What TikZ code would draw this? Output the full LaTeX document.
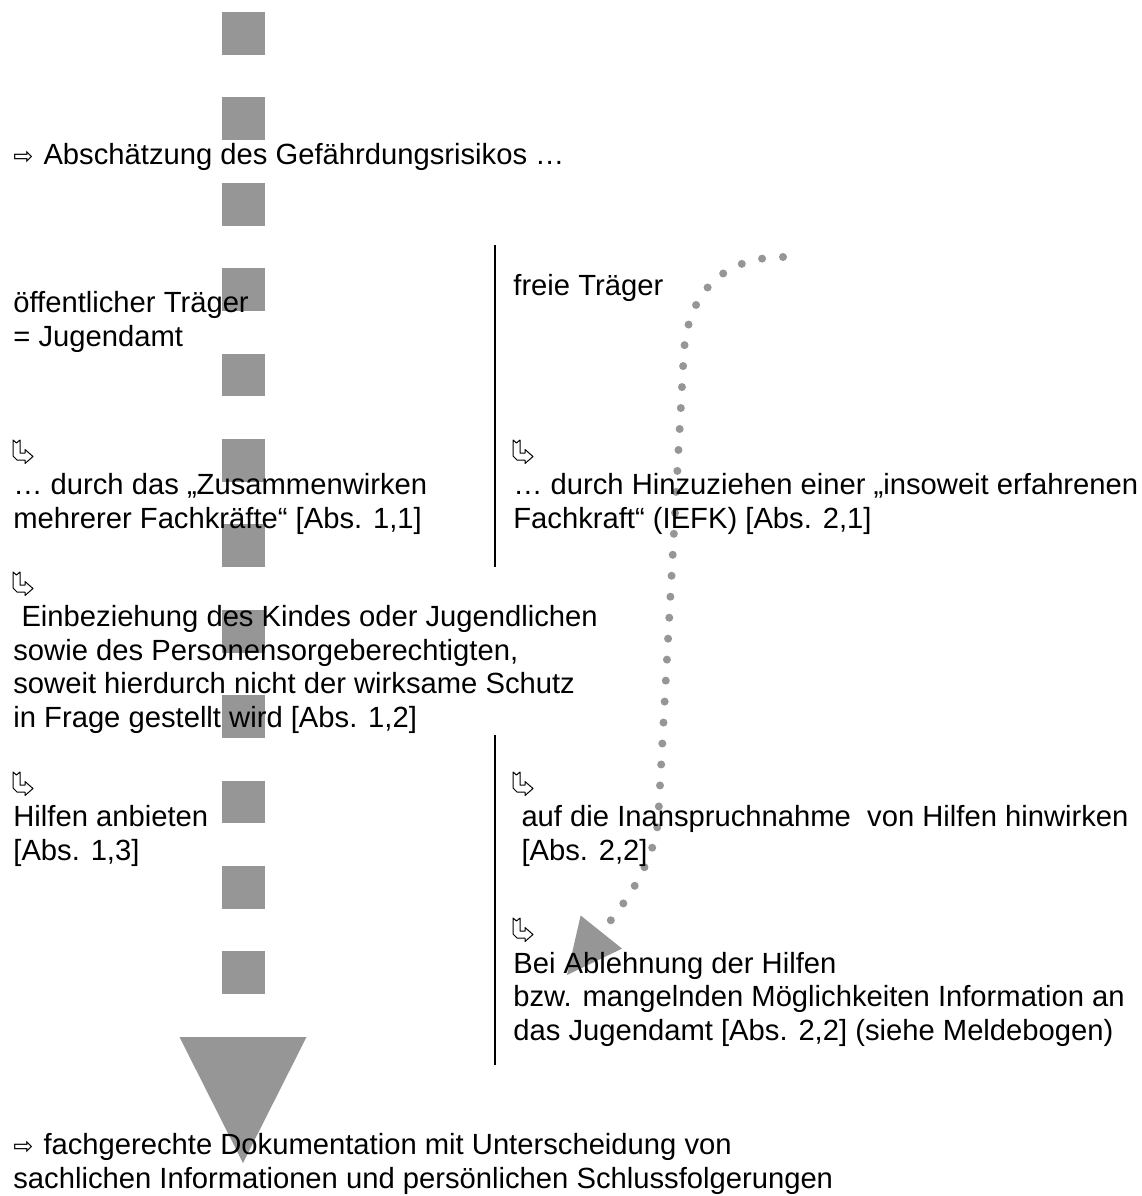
\documentclass[tikz,border=0pt]{standalone}
\usepackage{fontspec}
\setmainfont{Liberation Sans}
\newfontfamily\symfont{DejaVu Sans}
\usetikzlibrary{arrows.meta}
\definecolor{bargray}{RGB}{150,150,150}

\begin{document}
\begin{tikzpicture}[x=0.5pt, y=-0.5pt,
  txt/.style={anchor=base west, inner sep=0pt, align=left, font=\fontsize{14.6}{16.7}\selectfont},
  sepline/.style={line width=1pt},
  bigarrow/.style={bargray, line width=21.5pt, dash pattern=on 21.35pt off 21.35pt,
    -{Triangle[length=63pt 0 0, width=63.5pt 0 0, line width=0pt 0 0]}},
  dotarrow/.style={bargray, line width=4pt, line cap=round, dash pattern=on 0pt off 10.5pt,
    -{Triangle[length=27.5pt 0 0, width=26.5pt 0 0, line width=0pt 0 0]}},
  hookarrow/.pic={\draw[line width=0.5pt, fill=white, line join=round] (0,0) -- (3.5,3) -- (7,0) -- (7,13) -- (12,13) -- (12,9.5) -- (20,16.5) -- (12,23.5) -- (12,20) -- (4,20) -- (0,16) -- cycle;}]
\useasboundingbox (0,0) rectangle (1142,1196);

\coordinate (bigtop) at (243,12);
\coordinate (bigtip) at (243,1163);
\coordinate (dotstart) at (783,257);
\coordinate (dottip) at (567,975);
\draw[bigarrow] (bigtop) -- (bigtip);
\draw[dotarrow] (dotstart) .. controls (730,257) and (690,285) .. (684,350) -- (658,822) .. controls (652,872) and (615,915) .. (dottip);

\coordinate (sepAtop) at (495,245);
\coordinate (sepAbot) at (495,567);
\coordinate (sepBtop) at (495,735);
\coordinate (sepBbot) at (495,1065);
\draw[sepline] (sepAtop) -- (sepAbot);
\draw[sepline] (sepBtop) -- (sepBbot);

\node[txt] (risk) at (13,164) {{\symfont\fontsize{12}{12}\selectfont ⇨}\hspace{5pt}Abschätzung des Gefährdungsrisikos …};
\node[txt] (oeff) at (13,346) {öffentlicher Träger\\= Jugendamt};
\node[txt] (frei) at (513,295) {freie Träger};

\pic (hookA) at (13,440) {hookarrow};
\pic (hookB) at (513,440) {hookarrow};
\node[txt] (zusammen) at (13,528) {… durch das „Zusammenwirken\\mehrerer Fachkräfte“ [Abs. 1,1]};
\node[txt] (iefk) at (513,528) {… durch Hinzuziehen einer „insoweit erfahrenen\\Fachkraft“ (IEFK) [Abs. 2,1]};

\pic (hookC) at (13,572) {hookarrow};
\node[txt] (einbez) at (13,727) {\ Einbeziehung des Kindes oder Jugendlichen\\sowie des Personensorgeberechtigten,\\soweit hierdurch nicht der wirksame Schutz\\in Frage gestellt wird [Abs. 1,2]};

\pic (hookD) at (13,772) {hookarrow};
\pic (hookE) at (513,772) {hookarrow};
\node[txt] (anbieten) at (13,860) {Hilfen anbieten\\{[}Abs. 1,3]};
\node[txt] (hinwirken) at (513,860) {\ auf die Inanspruchnahme \ von Hilfen hinwirken\\\ [Abs. 2,2]};

\pic (hookF) at (513,918) {hookarrow};
\node[txt] (ablehnung) at (513,1040) {Bei Ablehnung der Hilfen\\bzw. mangelnden Möglichkeiten Information an\\das Jugendamt [Abs. 2,2] (siehe Meldebogen)};

\node[txt] (doku) at (13,1188) {{\symfont\fontsize{12}{12}\selectfont ⇨}\hspace{5pt}fachgerechte Dokumentation mit Unterscheidung von\\sachlichen Informationen und persönlichen Schlussfolgerungen};
\end{tikzpicture}
\end{document}
